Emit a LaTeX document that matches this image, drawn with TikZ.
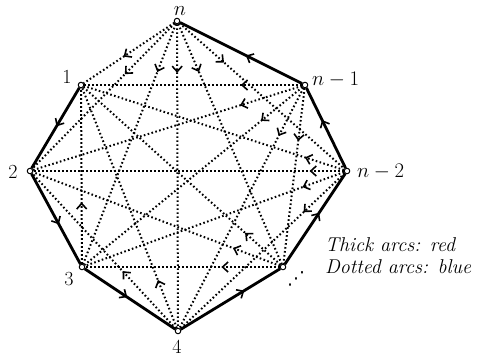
\documentclass[tikz,border=0pt]{standalone}
\usepackage{fontspec}
\newfontfamily\dejavu{DejaVu Sans}
\usetikzlibrary{arrows.meta,decorations.markings}
\begin{document}
\begin{tikzpicture}[x=1pt,y=-1pt,
  vtx/.style={circle,draw,fill=white,inner sep=0pt,minimum size=5.5pt,line width=1pt},
  lbl/.style={inner sep=0pt,font=\fontsize{20}{24}\selectfont},
  chev/.tip={Straight Barb[length=5.5pt,width=10pt,line width=1.6pt]},
  thickarc/.style={line width=2.8pt,postaction={decorate,decoration={markings,
      mark=at position #1 with {\arrow[solid]{chev}}}}},
  dotarc/.style={line width=2pt,dash pattern=on 1.6pt off 2.4pt,
      postaction={decorate,decoration={markings,
      mark=at position #1 with {\arrow[solid]{chev}}}}}
]
\path[use as bounding box] (0,0) rectangle (479,357);

% vertices
\node[vtx] (vn)  at (177,21)  {};
\node[vtx] (v1)  at (81,85)   {};
\node[vtx] (v2)  at (30,171)  {};
\node[vtx] (v3)  at (82,267)  {};
\node[vtx] (v4)  at (178,331) {};
\node[vtx] (vd)  at (283,267) {};
\node[vtx] (vm2) at (347,171) {};
\node[vtx] (vm1) at (305,85)  {};

% labels
\node[lbl,anchor=base] (ln)  at (180,15)  {$n$};
\node[lbl,anchor=base] (l1)  at (67,83)   {1};
\node[lbl,anchor=base] (l2)  at (13,178)  {2};
\node[lbl,anchor=base] (l3)  at (69,285)  {3};
\node[lbl,anchor=base] (l4)  at (177,353) {4};
\node[lbl,anchor=base west] (lm1) at (312,85)  {$n-1$};
\node[lbl,anchor=base west] (lm2) at (357,177) {$n-2$};
\node[lbl] (ld) at (296,279) {\dejavu\fontsize{18}{20}\selectfont ⋰};
\node[lbl,anchor=base west] (t1) at (325,251) {\itshape Thick arcs: red};
\node[lbl,anchor=base west] (t2) at (325,273) {\itshape Dotted arcs: blue};

% thick arcs (path 1 -> 2 -> ... -> n)
\draw[thickarc=0.48] (v1) -- (v2);
\draw[thickarc=0.56] (v2) -- (v3);
\draw[thickarc=0.47] (v3) -- (v4);
\draw[thickarc=0.64] (v4) -- (vd);
\draw[thickarc=0.57] (vd) -- (vm2);
\draw[thickarc=0.6]  (vm2) -- (vm1);
\draw[thickarc=0.46] (vm1) -- (vn);

% dotted arcs (backward)
\draw[dotarc=0.56] (vn) -- (v1);
\draw[dotarc=0.35] (vn) -- (v2);
\draw[dotarc=0.2]  (vn) -- (v3);
\draw[dotarc=0.16] (vn) -- (v4);
\draw[dotarc=0.2]  (vn) -- (vd);
\draw[dotarc=0.27] (vn) -- (vm2);

\draw[dotarc=0.28] (vm1) -- (v1);
\draw[dotarc=0.23] (vm1) -- (v2);
\draw[dotarc=0.19] (vm1) -- (v3);
\draw[dotarc=0.2]  (vm1) -- (v4);
\draw[dotarc=0.3]  (vm1) -- (vd);

\draw[dotarc=0.15] (vm2) -- (v1);
\draw[dotarc=0.11] (vm2) -- (v2);
\draw[dotarc=0.16] (vm2) -- (v3);
\draw[dotarc=0.25] (vm2) -- (v4);

\draw[dotarc=0.18] (vd) -- (v1);
\draw[dotarc=0.19] (vd) -- (v2);
\draw[dotarc=0.3]  (vd) -- (v3);

\draw[dotarc=0.2]  (v4) -- (v1);
\draw[dotarc=0.37] (v4) -- (v2);

\draw[dotarc=0.35] (v3) -- (v1);
\end{tikzpicture}
\end{document}
